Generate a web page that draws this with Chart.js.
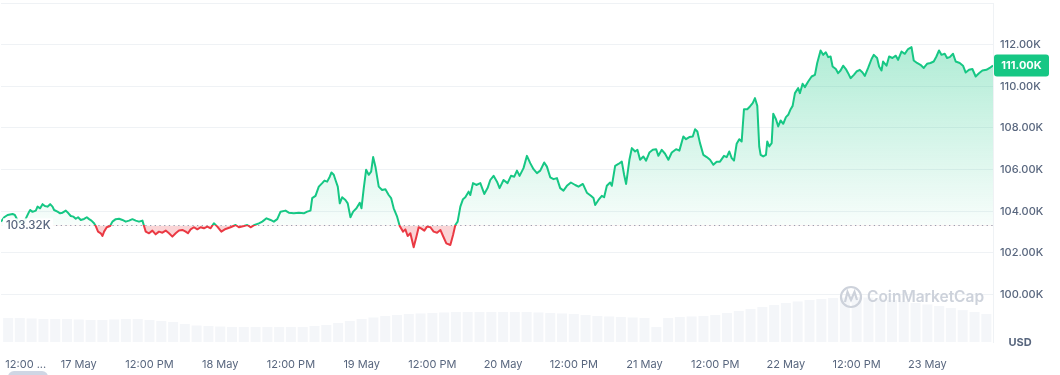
<!DOCTYPE html>
<html>
<head>
<meta charset="utf-8">
<style>
  html, body { margin: 0; padding: 0; background: #fff; }
  #wrap { width: 1060px; height: 375px; position: relative; }
</style>
</head>
<body>
<div id="wrap"><canvas id="chart" width="1060" height="375"></canvas></div>
<script src="https://cdn.jsdelivr.net/npm/chart.js@4.4.1/dist/chart.umd.min.js"></script>
<script>
// BTC / USD, 7 day view. x = hours since 17 May 00:00
const openPrice = 103.32;
const lastPrice = 111.00;

const hours = [
  -13.2, -12.66, -12.08, -11.24, -10.85, -10.17, -9.32, -8.42, -8.25, -7.85, -7.29, -7.0, -6.56, -6.15, -5.76, -5.31,
  -4.86, -4.46, -4.19, -3.61, -3.17, -2.76, -2.2, -1.75, -1.36, -0.9, -0.51, -0.12, 0.34, 0.9, 1.36, 1.75,
  2.15, 2.59, 2.88, 3.27, 3.73, 4.02, 4.29, 4.75, 5.31, 5.71, 6.27, 6.83, 7.41, 7.97, 8.53, 9.1,
  9.66, 10.22, 10.8, 11.07, 11.36, 11.92, 12.49, 13.05, 13.61, 14.19, 14.75, 15.31, 15.88, 16.44, 17.0, 17.58,
  18.14, 18.53, 18.98, 19.54, 20.12, 20.68, 21.24, 21.81, 22.37, 22.93, 23.51, 24.19, 24.92, 25.76, 26.61, 27.17,
  28.02, 28.59, 29.15, 29.83, 30.56, 31.14, 31.86, 32.54, 33.1, 33.68, 34.24, 35.08, 35.64, 36.49, 37.34, 38.19,
  38.76, 39.32, 39.61, 40.17, 40.73, 41.31, 41.69, 42.15, 42.59, 42.88, 43.27, 43.56, 43.95, 44.29, 44.69, 45.25,
  45.64, 46.1, 46.56, 47.12, 47.68, 47.97, 48.36, 48.76, 49.2, 49.61, 49.95, 50.34, 50.9, 51.47, 52.03, 52.59,
  53.0, 53.44, 54.02, 54.46, 55.03, 55.42, 55.81, 56.27, 56.83, 57.29, 57.68, 58.08, 58.64, 59.1, 59.66, 60.22,
  60.8, 61.36, 61.81, 62.37, 63.05, 63.51, 63.9, 64.29, 64.75, 65.2, 65.59, 66.15, 66.44, 66.9, 67.46, 68.14,
  68.81, 69.37, 69.83, 70.39, 70.97, 71.41, 72.08, 72.76, 73.34, 73.9, 74.36, 74.8, 75.47, 76.05, 76.61, 77.17,
  77.75, 78.31, 78.98, 79.44, 80.0, 80.56, 81.14, 81.69, 82.25, 82.83, 83.51, 84.24, 84.8, 85.54, 86.22, 86.9,
  87.34, 87.63, 88.19, 88.76, 89.15, 89.61, 90.17, 90.46, 91.02, 91.58, 92.15, 92.54, 92.88, 93.44, 93.85, 94.41,
  94.8, 95.25, 95.81, 96.27, 96.83, 97.41, 97.97, 98.36, 98.93, 99.49, 100.05, 100.63, 101.36, 101.92, 102.59, 103.05,
  103.61, 104.19, 104.58, 104.97, 105.42, 105.98, 106.56, 107.12, 107.68, 108.25, 108.81, 109.49, 109.95, 110.39, 110.8, 111.19,
  111.64, 112.08, 112.49, 112.88, 113.44, 113.9, 114.36, 114.75, 115.14, 115.47, 115.71, 116.15, 116.61, 116.83, 117.17, 117.58,
  117.85, 118.31, 118.69, 119.1, 119.54, 120.0, 120.39, 120.8, 121.14, 121.53, 122.08, 122.37, 122.83, 123.22, 123.78, 124.36,
  124.92, 125.31, 125.88, 126.32, 126.78, 127.17, 127.58, 127.92, 128.47, 128.86, 129.27, 129.71, 130.17, 130.56, 130.97, 131.53,
  131.98, 132.54, 133.0, 133.39, 133.95, 134.53, 134.92, 135.47, 135.81, 136.22, 136.49, 137.07, 137.51, 138.08, 138.64, 139.03,
  139.61, 140.17, 140.73, 141.31, 141.69, 142.25, 142.83, 143.39, 143.95, 144.53, 145.08, 145.54, 145.98, 146.39, 146.95, 147.34,
  147.8, 148.36, 148.81, 149.49, 150.05, 150.51, 151.07, 151.64, 152.2, 152.76, 153.34, 154.02, 154.58, 155.14
];

// price in thousands of USD
const prices = [
  103.50, 103.71, 103.82, 103.87, 103.82, 103.45, 103.45, 103.98, 104.06, 103.97, 104.03, 104.22, 104.14, 104.34, 104.25, 104.22,
  104.34, 104.22, 104.06, 103.98, 103.90, 103.93, 104.03, 103.90, 103.77, 103.74, 103.64, 103.71, 103.58, 103.63, 103.71, 103.62,
  103.55, 103.42, 103.29, 103.02, 102.94, 102.81, 103.02, 103.23, 103.29, 103.50, 103.62, 103.64, 103.58, 103.50, 103.55, 103.62,
  103.55, 103.50, 103.55, 103.29, 103.02, 102.94, 103.07, 102.89, 103.02, 102.97, 103.07, 102.94, 102.78, 102.94, 103.07, 103.10,
  103.02, 102.94, 103.13, 103.23, 103.13, 103.23, 103.18, 103.26, 103.18, 103.42, 103.26, 103.02, 103.15, 103.23, 103.34, 103.23,
  103.29, 103.34, 103.23, 103.34, 103.42, 103.50, 103.66, 103.58, 103.50, 103.62, 103.98, 104.03, 103.93, 103.90, 103.93, 103.90,
  103.98, 104.03, 104.63, 104.74, 105.18, 105.35, 105.47, 105.42, 105.66, 105.86, 105.75, 105.50, 105.18, 104.38, 104.67, 104.54,
  104.38, 103.71, 103.98, 104.14, 104.41, 104.14, 105.11, 105.99, 105.75, 105.90, 106.60, 106.14, 105.18, 105.02, 105.06, 104.78,
  104.63, 104.14, 103.74, 103.29, 103.02, 103.13, 102.81, 102.94, 102.27, 102.78, 103.23, 103.18, 103.07, 103.26, 103.23, 103.02,
  102.97, 103.10, 102.81, 102.46, 102.38, 102.86, 103.34, 103.50, 104.22, 104.58, 104.67, 104.94, 104.78, 105.35, 105.26, 105.35,
  104.83, 105.11, 105.50, 105.70, 105.42, 105.11, 105.50, 105.35, 105.70, 105.66, 105.95, 105.70, 106.07, 106.66, 106.31, 106.02,
  105.83, 105.95, 106.34, 106.14, 105.63, 105.54, 105.59, 105.11, 104.99, 105.22, 105.38, 105.26, 105.18, 105.31, 104.89, 104.74,
  104.63, 104.30, 104.54, 104.74, 104.67, 105.22, 105.38, 105.22, 106.18, 106.27, 106.38, 105.75, 105.31, 106.47, 107.03, 106.87,
  106.95, 106.47, 106.63, 106.43, 106.82, 106.95, 106.98, 106.66, 106.95, 106.76, 106.47, 106.82, 106.98, 106.91, 107.59, 107.46,
  107.56, 107.59, 107.94, 107.83, 107.27, 106.71, 106.60, 106.47, 106.23, 106.38, 106.38, 106.66, 106.60, 106.87, 106.55, 106.43,
  107.24, 107.46, 107.35, 108.90, 108.90, 109.03, 109.19, 109.43, 109.06, 107.11, 106.71, 106.63, 106.71, 107.35, 107.11, 107.27,
  108.68, 108.42, 108.07, 108.36, 108.20, 108.52, 108.63, 108.90, 109.06, 109.67, 109.91, 109.67, 110.12, 109.96, 110.23, 110.47,
  110.55, 111.12, 111.72, 111.51, 111.63, 111.40, 111.43, 110.95, 110.83, 110.63, 110.76, 110.99, 110.83, 110.63, 110.39, 110.55,
  110.71, 110.79, 110.66, 110.50, 110.88, 111.31, 111.51, 111.36, 110.95, 110.76, 111.19, 110.99, 111.43, 111.36, 111.47, 111.27,
  111.67, 111.56, 111.79, 111.88, 111.24, 111.12, 111.03, 110.88, 111.08, 111.12, 111.19, 111.43, 111.72, 111.51, 111.56, 111.36,
  111.40, 111.56, 111.19, 111.12, 110.99, 110.66, 110.79, 110.83, 110.47, 110.63, 110.76, 110.79, 110.88, 111.00
];

// 24h volume, billions USD, one bar every 2 hours from 16 May 12:00
const volumes = [
  29.7, 29.7, 29.1, 28.5, 28.5, 28.5, 27.9, 27.3, 27.3, 27.9, 28.5, 28.5, 27.3, 26.0, 24.8, 22.3,
  20.4, 19.8, 19.2, 18.6, 18.6, 18.6, 18.6, 18.6, 18.6, 18.6, 19.8, 21.1, 23.5, 26.0, 28.5, 30.4,
  32.2, 33.5, 34.7, 35.3, 35.9, 36.6, 37.2, 37.2, 37.2, 37.2, 37.2, 37.2, 37.2, 36.6, 35.9, 35.3,
  34.7, 33.5, 32.2, 31.6, 31.0, 30.4, 29.7, 18.6, 29.7, 31.0, 31.6, 32.2, 33.5, 35.9, 38.4, 40.9,
  43.4, 45.8, 48.3, 50.2, 52.0, 53.3, 54.5, 55.1, 55.8, 55.1, 53.9, 52.0, 50.2, 48.3, 46.5, 44.6,
  42.1, 39.6, 37.2, 34.7
];
const volumeHours = volumes.map((_, i) => -12 + 2 * i);

const xTickHours = [-9, 0, 12, 24, 36, 48, 60, 72, 84, 96, 108, 120, 132, 144];
const xTickLabels = ['12:00 ...', '17 May', '12:00 PM', '18 May', '12:00 PM', '19 May', '12:00 PM', '20 May',
  '12:00 PM', '21 May', '12:00 PM', '22 May', '12:00 PM', '23 May'];
const yTicks = [100, 102, 104, 106, 108, 110, 112, 114];

const GREEN = '#16c784';
const RED = '#ea3943';
const GREY = '#58667e';

Chart.defaults.font.family = 'Inter, "Noto Sans", sans-serif';

const overlay = {
  id: 'overlay',
  beforeDatasetsDraw(chart) {
    const { ctx, chartArea: a, scales: { y } } = chart;
    const by = Math.round(y.getPixelForValue(openPrice)) + 0.5;
    ctx.save();
    ctx.strokeStyle = '#9aa3b5';
    ctx.lineWidth = 1;
    ctx.setLineDash([1.3, 3.4]);
    ctx.beginPath();
    ctx.moveTo(56, by);
    ctx.lineTo(a.right, by);
    ctx.stroke();
    ctx.restore();
  },
  afterDatasetsDraw(chart) {
    const { ctx, scales: { y } } = chart;
    ctx.save();
    // watermark
    ctx.strokeStyle = '#cdd2db';
    ctx.lineWidth = 2.2;
    ctx.beginPath();
    ctx.arc(851, 297, 10, 0, Math.PI * 2);
    ctx.stroke();
    ctx.beginPath();
    ctx.moveTo(845, 302);
    ctx.lineTo(847.5, 292);
    ctx.lineTo(851, 300);
    ctx.lineTo(854.5, 292);
    ctx.lineTo(857, 300);
    ctx.stroke();
    ctx.fillStyle = '#cdd2db';
    ctx.font = '600 15.5px Inter, sans-serif';
    ctx.textBaseline = 'middle';
    ctx.fillText('CoinMarketCap', 867, 297);

    // open price label
    const by = y.getPixelForValue(openPrice);
    ctx.fillStyle = 'rgba(255,255,255,0.92)';
    ctx.fillRect(3, by - 7, 50, 15);
    ctx.fillStyle = GREY;
    ctx.font = '500 11.5px Inter, sans-serif';
    ctx.textAlign = 'left';
    ctx.fillText(openPrice.toFixed(2) + 'K', 6, by + 0.5);
    ctx.restore();
  },
  afterDraw(chart) {
    const { ctx, chartArea: a, scales: { y } } = chart;
    const py = y.getPixelForValue(lastPrice);
    ctx.save();
    ctx.fillStyle = GREEN;
    ctx.beginPath();
    ctx.roundRect(a.right + 1, py - 11, 55, 22, 3);
    ctx.fill();
    ctx.fillStyle = '#fff';
    ctx.font = '700 11px Inter, sans-serif';
    ctx.textAlign = 'center';
    ctx.textBaseline = 'middle';
    ctx.fillText(lastPrice.toFixed(2) + 'K', a.right + 28.5, py + 0.5);

    ctx.fillStyle = GREY;
    ctx.font = '700 11px Inter, sans-serif';
    ctx.fillText('USD', 1020, a.bottom + 1);

    // scrollbar handle under the axis
    ctx.fillStyle = '#cfd6e4';
    ctx.beginPath();
    ctx.roundRect(8, 371, 40, 12, 6);
    ctx.fill();
    ctx.restore();
  }
};

const chart = new Chart(document.getElementById('chart'), {
  type: 'line',
  data: {
    datasets: [
      {
        label: 'Price',
        data: hours.map((h, i) => ({ x: h, y: prices[i] })),
        borderColor: GREEN,
        borderWidth: 2,
        pointRadius: 0,
        tension: 0,
        borderJoinStyle: 'round',
        fill: { target: { value: openPrice }, above: 'rgba(22,199,132,0.15)', below: 'rgba(234,57,67,0.22)' },
        order: 1
      },
      {
        type: 'bar',
        label: 'Volume',
        data: volumeHours.map((h, i) => ({ x: h, y: volumes[i] })),
        yAxisID: 'yv',
        backgroundColor: 'rgba(222,227,236,0.32)',
        borderWidth: 0,
        barPercentage: 0.85,
        categoryPercentage: 1,
        order: 2
      }
    ]
  },
  options: {
    responsive: false,
    animation: false,
    devicePixelRatio: 1,
    layout: { padding: { top: 3, left: 0, right: 0, bottom: 0 } },
    plugins: { legend: { display: false }, tooltip: { enabled: false } },
    scales: {
      x: {
        type: 'linear',
        min: -13.2,
        max: 155.14,
        offset: false,
        grid: { display: false },
        border: { display: false },
        afterBuildTicks: (axis) => { axis.ticks = xTickHours.map(v => ({ value: v })); },
        afterFit: (axis) => { axis.height = 33; axis.paddingLeft = 0; axis.paddingRight = 0; },
        ticks: {
          autoSkip: false,
          maxRotation: 0,
          padding: 8,
          color: GREY,
          font: { size: 11 },
          callback: (v, i) => xTickLabels[i]
        }
      },
      y: {
        position: 'right',
        min: 97.72,
        max: 114,
        afterBuildTicks: (axis) => { axis.ticks = yTicks.map(v => ({ value: v })); },
        afterFit: (axis) => { axis.width = 67; axis.paddingTop = 0; axis.paddingBottom = 0; },
        grid: { color: '#eff2f5', drawTicks: false },
        border: { display: true, color: '#eff2f5' },
        ticks: {
          padding: 7,
          color: GREY,
          font: { size: 11, weight: '500' },
          callback: (v) => v >= 114 ? '' : v.toFixed(2) + 'K'
        }
      },
      yv: {
        display: false,
        min: 0,
        max: 420
      }
    }
  },
  plugins: [overlay]
});

// colour line and area by the open price, once the scale is laid out
function paintSeries(c) {
  const a = c.chartArea;
  const y = c.scales.y;
  const baseY = y.getPixelForValue(openPrice);
  const stop = (baseY - a.top) / (a.bottom - a.top);
  const stroke = c.ctx.createLinearGradient(0, a.top, 0, a.bottom);
  stroke.addColorStop(0, GREEN);
  stroke.addColorStop(stop, GREEN);
  stroke.addColorStop(stop, RED);
  stroke.addColorStop(1, RED);
  const up = c.ctx.createLinearGradient(0, y.getPixelForValue(112), 0, baseY);
  up.addColorStop(0, 'rgba(22,199,132,0.34)');
  up.addColorStop(1, 'rgba(22,199,132,0.03)');
  const ds = c.data.datasets[0];
  ds.borderColor = stroke;
  ds.fill = { target: { value: openPrice }, above: up, below: 'rgba(234,57,67,0.22)' };
  c.update('none');
}
paintSeries(chart);
</script>
</body>
</html>
